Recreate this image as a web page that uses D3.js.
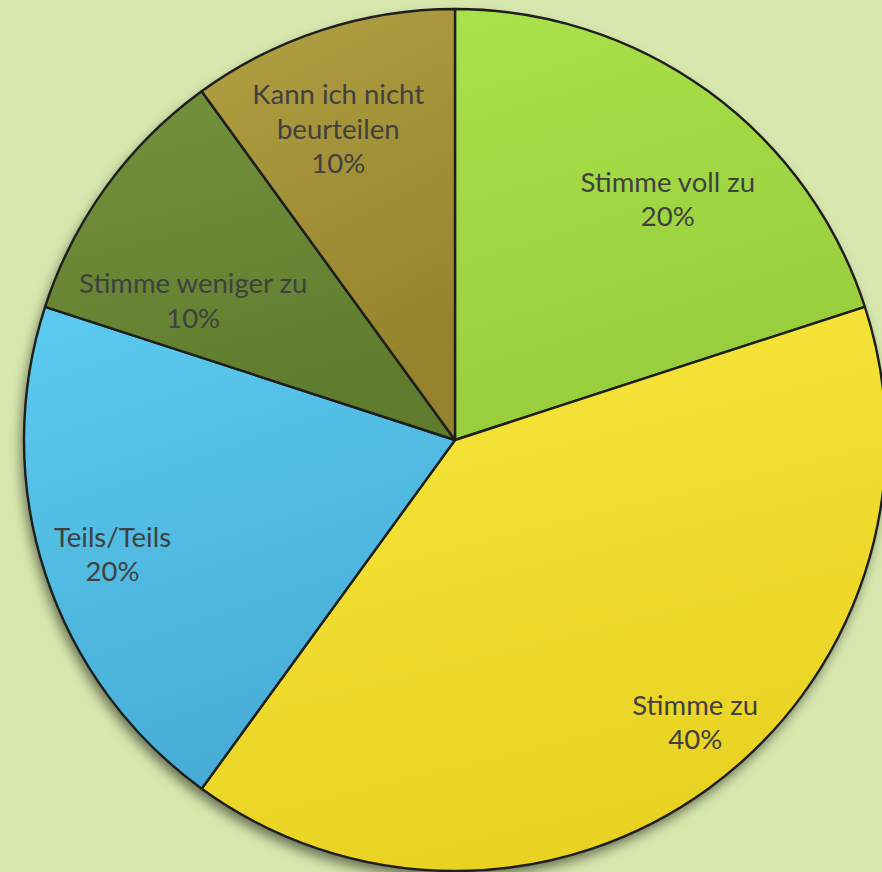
<!DOCTYPE html>
<html><head><meta charset="utf-8">
<script src="https://cdn.jsdelivr.net/npm/d3@7"></script>
<style>html,body{margin:0;padding:0;background:#d7e7ad;}svg{display:block;}</style>
</head><body>
<svg id="c" width="882" height="872"></svg>
<script>
const categories = ["Stimme voll zu", "Stimme zu", "Teils/Teils", "Stimme weniger zu", "Kann ich nicht beurteilen"];
const values = [20, 40, 20, 10, 10];
const labelLines = [["Stimme voll zu"], ["Stimme zu"], ["Teils/Teils"], ["Stimme weniger zu"], ["Kann ich nicht", "beurteilen"]];
const percentLabels = ["20%", "40%", "20%", "10%", "10%"];

// styling / layout (not data)
const colorsTop = ["#a9e24a", "#f8e83e", "#5ccbf0", "#73923c", "#b1a043"];
const colorsBot = ["#98cc3c", "#e9d222", "#48add6", "#5f7c2e", "#95822c"];
const labelPlace = [ // [angle shift deg, radius fraction]
  [5.5, 0.745], [-4.4, 0.86], [-0.5, 0.838], [-8, 0.688], [-2.6, 0.77]
];

const svg = d3.select("#c");
const cx = 455, cy = 440, r = 431;
const defs = svg.append("defs");
const f = defs.append("filter").attr("id","sh").attr("x","-20%").attr("y","-20%").attr("width","140%").attr("height","140%");
f.append("feDropShadow").attr("dx",-3).attr("dy",7).attr("stdDeviation",6).attr("flood-color","#000").attr("flood-opacity",0.5);
colorsTop.forEach((c,i)=>{
  const g = defs.append("linearGradient").attr("id","g"+i).attr("x1",0).attr("y1",0).attr("x2",0.3).attr("y2",1);
  g.append("stop").attr("offset","0%").attr("stop-color",c);
  g.append("stop").attr("offset","100%").attr("stop-color",colorsBot[i]);
});

const pie = d3.pie().sort(null).value(d=>d)(values);
const arc = d3.arc().innerRadius(0).outerRadius(r);
const g = svg.append("g").attr("transform",`translate(${cx},${cy})`);
g.append("circle").attr("r",r).attr("fill","#888").attr("filter","url(#sh)");
g.selectAll("path").data(pie).join("path")
  .attr("d",arc)
  .attr("fill",(d,i)=>`url(#g${i})`)
  .attr("stroke","#1e1e1e").attr("stroke-width",2.4).attr("stroke-linejoin","round");

const lh = 34.5;
pie.forEach((d,i)=>{
  const mid = (d.startAngle+d.endAngle)/2 + labelPlace[i][0]*Math.PI/180;
  const rr = r*labelPlace[i][1];
  const x = rr*Math.sin(mid), y = -rr*Math.cos(mid);
  const lines = labelLines[i].concat([percentLabels[i]]);
  const t = g.append("text").attr("x",x).attr("y",y)
    .attr("text-anchor","middle")
    .attr("font-family","Lato, 'Noto Sans', sans-serif")
    .attr("font-size",27.5).attr("fill","#404040");
  lines.forEach((l,k)=>{
    t.append("tspan").attr("x",x).attr("y", y + (k-(lines.length-1)/2)*lh).attr("dy","0.35em").text(l);
  });
});
</script>
</body></html>
